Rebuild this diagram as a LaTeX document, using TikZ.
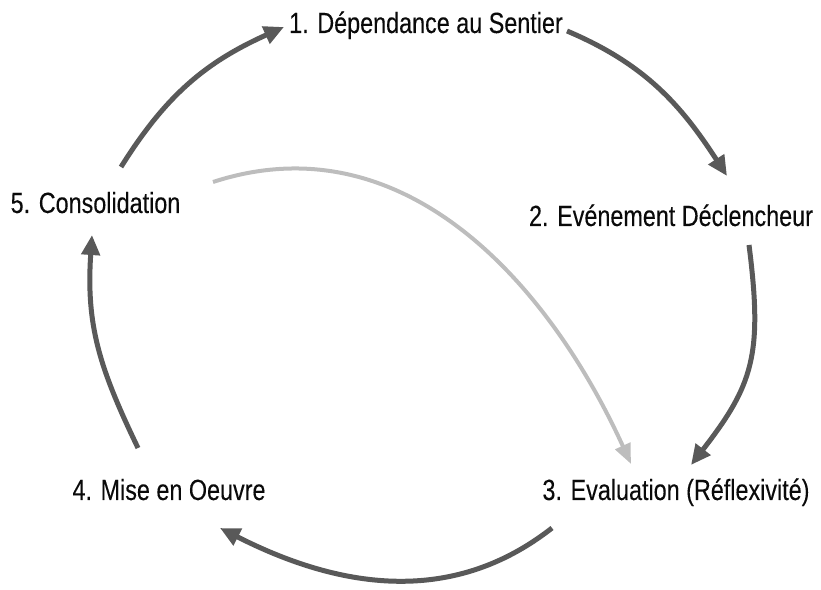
\documentclass[tikz,border=0pt]{standalone}
\usepackage{fontspec}
\setmainfont{Liberation Sans}[FakeStretch=0.8,FakeBold=0.15]
\usetikzlibrary{arrows.meta,calc}
\definecolor{arrdark}{HTML}{595959}
\definecolor{arrlight}{HTML}{BDBDBD}
\definecolor{txt}{HTML}{0A0A0A}
\begin{document}
\begin{tikzpicture}[x=1pt,y=1pt,
  lbl/.style={inner sep=0pt, anchor=base, text=txt, font=\fontsize{29.2}{34}\selectfont},
  dk/.style={draw=arrdark, line width=5pt, -{Triangle[length=20pt,width=18pt]}, arrdark},
  lt/.style={draw=arrlight, line width=4pt, -{Triangle[length=20pt,width=16pt]}, arrlight}]
\useasboundingbox (0,0) rectangle (821,589);
\node[lbl] (n1) at (426,556) {1. Dépendance au Sentier};
\node[lbl] (n2) at (671,363) {2. Evénement Déclencheur};
\node[lbl] (n3) at (676,89) {3. Evaluation (Réflexivité)};
\node[lbl] (n4) at (169,89) {4. Mise en Oeuvre};
\node[lbl] (n5) at (95.5,376) {5. Consolidation};
% cycle
\draw[dk] ($(n5.base)+(25.5,46)$) .. controls +(45,72) and +(-78,-35) .. ($(n1.base)+(-142,6)$);
\draw[dk] ($(n1.base)+(141,2)$) .. controls +(78,-33) and +(-46,71) .. ($(n2.base)+(56,50)$);
\draw[dk] ($(n2.base)+(78,-19)$) .. controls +(14,-110) and +(62,80) .. ($(n3.base)+(15,35)$);
\draw[dk] ($(n3.base)+(-124,-28)$) .. controls +(-102,-80) and +(116,-59) .. ($(n4.base)+(51,-28)$);
\draw[dk] ($(n4.base)+(-31,52)$) .. controls +(-39,81) and +(-6,-90) .. ($(n5.base)+(-3.5,-22)$);
% feedback
\draw[lt] ($(n5.base)+(117.5,31)$) .. controls +(190,62) and +(-83,182) .. ($(n3.base)+(-45,36)$);
\end{tikzpicture}
\end{document}
